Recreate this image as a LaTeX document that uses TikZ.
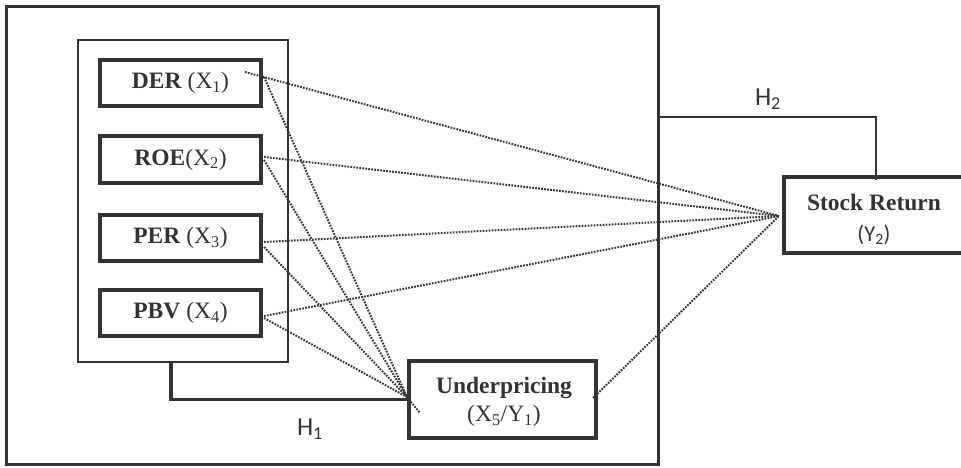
\documentclass[tikz,border=0pt]{standalone}
\usepackage{fontspec}
\setmainfont{Liberation Serif}
\newfontfamily\hfont{Carlito}
\definecolor{ink}{HTML}{333333}
\begin{document}
\begin{tikzpicture}[x=1pt,y=-1pt,
  varbox/.style={draw=ink,line width=4pt,minimum width=161pt,minimum height=46pt,inner sep=0pt,font=\fontsize{23.5}{26}\selectfont,text=ink},
  dotline/.style={draw=ink,line width=2pt,dash pattern=on 1.7pt off 1.3pt},
  hline/.style={draw=ink,line width=3pt},
  hlab/.style={font=\hfont\fontsize{26}{28}\selectfont,text=ink,inner sep=0pt}]
\useasboundingbox (0,0) rectangle (961,468);
% outer frame
\node[draw=ink,line width=3pt,minimum width=652pt,minimum height=458pt,inner sep=0pt] (outer) at (332.5,235.5) {};
% inner group
\node[draw=ink,line width=1.8pt,minimum width=210pt,minimum height=322pt,inner sep=0pt] (grp) at (183,201) {};
% variable boxes
\node[varbox] (der) at (180.5,83) {\textbf{DER} (X\textsubscript{1})};
\node[varbox] (roe) at (180.5,159.5) {\textbf{ROE}(X\textsubscript{2})};
\node[varbox] (per) at (180.5,238) {\textbf{PER} (X\textsubscript{3})};
\node[varbox] (pbv) at (180.5,313) {\textbf{PBV} (X\textsubscript{4})};
% underpricing
\node[draw=ink,line width=3.5pt,minimum width=187pt,minimum height=77pt,inner sep=0pt] (up) at (502.5,399.5) {};
\node[align=center,text=ink,inner sep=0pt,font=\fontsize{23.5}{28}\selectfont] (upt) at (504,402) {\textbf{Underpricing}\\(X\textsubscript{5}/Y\textsubscript{1})};
% stock return
\node[draw=ink,line width=4pt,minimum width=200pt,minimum height=76pt,inner sep=0pt,anchor=west] (sr) at (782,215) {};
\node[align=center,text=ink,inner sep=0pt,font=\fontsize{23.5}{31}\selectfont] (srt) at (874,219) {\textbf{Stock Return}\\{\hfont\fontsize{22.5}{31}\selectfont(Y\textsubscript{2})}};
% hypothesis connectors
\coordinate (h1a) at (171,399.5);
\draw[hline,line width=3.5pt] (grp.south -| h1a) -- (h1a) -- (up.west);
\coordinate (h2a) at (876,117);
\draw[hline,line width=2.8pt] (outer.east |- h2a) -- (h2a) -- ([yshift=-5pt]h2a |- sr.north);
\node[hlab] (h1) at (310,429) {H\textsubscript{1}};
\node[hlab] (h2) at (768,99) {H\textsubscript{2}};
% convergence points
\coordinate (cs) at (779,216);
\coordinate (cu) at (407,397);
\coordinate (d0) at (245,72);
\coordinate (d1) at (264,77);
\coordinate (r0) at (264,157);
\coordinate (r1) at (264,160);
\coordinate (p0) at (264,242);
\coordinate (p1) at (264,247);
\coordinate (b0) at (264,316);
\coordinate (b1) at (264,318);
\coordinate (u0) at (593,398);
\coordinate (stub) at (420,413);
\draw[dotline] (d0) -- (cs);
\draw[dotline] (r0) -- (cs);
\draw[dotline] (p0) -- (cs);
\draw[dotline] (b0) -- (cs);
\draw[dotline] (u0) -- (cs);
\draw[dotline] (d1) -- (cu);
\draw[dotline] (r1) -- (cu);
\draw[dotline] (p1) -- (cu);
\draw[dotline] (b1) -- (cu);
\draw[dotline] (cu) -- (stub);
\end{tikzpicture}
\end{document}
